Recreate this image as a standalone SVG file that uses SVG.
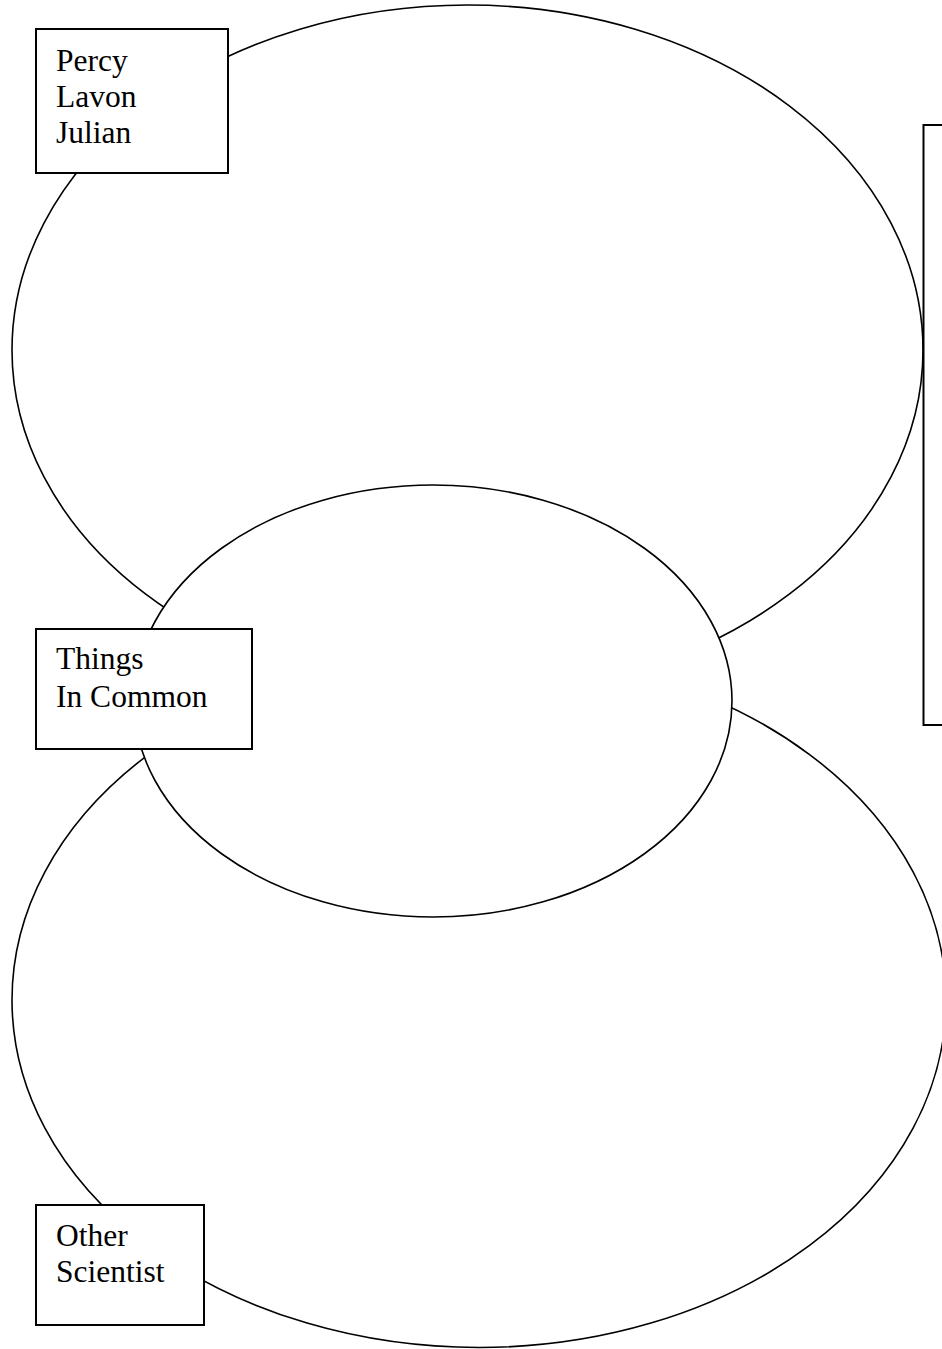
<svg xmlns="http://www.w3.org/2000/svg" width="942" height="1349" viewBox="0 0 942 1349">
<style>
.sh{fill:#fff;stroke:#000;stroke-width:1.6}
.bx{fill:#fff;stroke:#000;stroke-width:2}
.t{font-family:"Liberation Serif","Times New Roman",serif;font-size:31.5px;fill:#000}
</style>
<rect width="942" height="1349" fill="#fff"/>
<g id="connectors"></g>
<g id="circle-top"><ellipse class="sh" cx="467.5" cy="350" rx="455.5" ry="345"/></g>
<g id="circle-bottom"><ellipse class="sh" cx="479" cy="1000" rx="467" ry="347.5"/></g>
<g id="circle-middle"><ellipse class="sh" cx="433" cy="701" rx="299" ry="216"/></g>
<g id="box-percy">
<rect class="bx" x="36" y="29" width="192" height="144"/>
<text class="t" x="56" y="71">Percy</text>
<text class="t" x="56" y="107">Lavon</text>
<text class="t" x="56" y="143">Julian</text>
</g>
<g id="box-common">
<rect class="bx" x="36" y="629" width="216" height="120"/>
<text class="t" x="56" y="669">Things</text>
<text class="t" x="56" y="707">In Common</text>
</g>
<g id="box-other">
<rect class="bx" x="36" y="1205" width="168" height="120"/>
<text class="t" x="56" y="1246">Other</text>
<text class="t" x="56" y="1282">Scientist</text>
</g>
<g id="box-right"><rect class="bx" x="923.5" y="125" width="40" height="600"/></g>
</svg>
